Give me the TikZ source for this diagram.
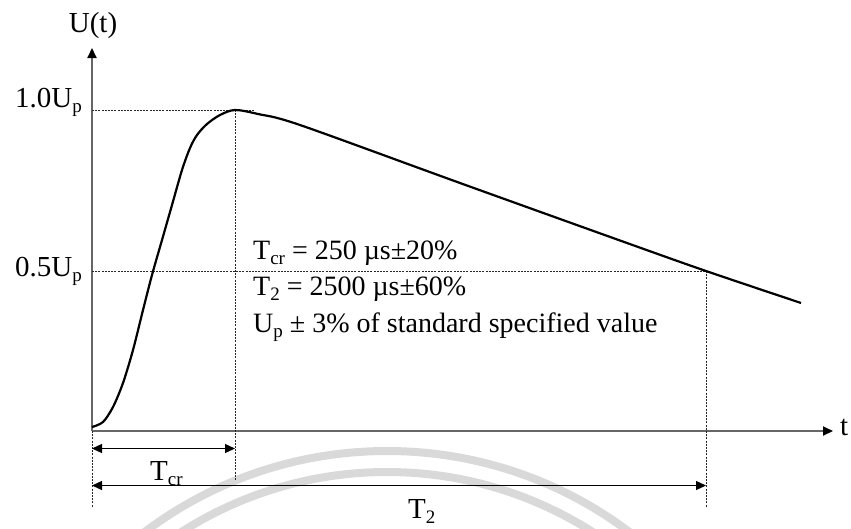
\documentclass[tikz,border=0pt]{standalone}
\usepackage{fontspec}
\setmainfont{Liberation Serif}
\usetikzlibrary{arrows.meta}
\newcommand\sbs[1]{\raisebox{-0.2em}{\fontsize{19}{19}\selectfont #1}}

\begin{document}
\begin{tikzpicture}[x=1pt,y=-1pt,>={Triangle[length=10pt,width=9pt]},
  axis/.style={draw=black!60,line width=2pt,-{Triangle[length=10pt,width=9pt,color=black]}},
  guide/.style={draw=black!85,line width=0.8pt,dash pattern=on 2pt off 1.2pt},
  dim/.style={<->,line width=1.3pt},
  wmark/.style={draw=black!15,line width=8pt},
  lbl/.style={font=\fontsize{29}{34}\selectfont,inner sep=0pt},
  txt/.style={font=\fontsize{28}{34}\selectfont,inner sep=0pt}]
\useasboundingbox (0,0) rectangle (851,528);
% watermark
\begin{scope}
\clip (0,0) rectangle (851,528);
\draw[wmark] (387,854) circle[radius=403pt];
\draw[wmark] (387,854) circle[radius=382pt];
\end{scope}
% axes
\coordinate (o) at (92,431);
\coordinate (ytop) at (92,48);
\coordinate (xend) at (833,431);
\draw[axis] (o) -- (ytop);
\draw[axis] (o) -- (xend);
\node[lbl,anchor=base] (ut) at (93,32) {U(t)};
\node[lbl,anchor=base west] (tl) at (840,435) {t};
\node[lbl,anchor=base east] (u10) at (82,107) {1.0U\sbs{p}};
\node[lbl,anchor=base east] (u05) at (82,276) {0.5U\sbs{p}};
% guide lines
\coordinate (pk) at (235,110);
\coordinate (hf) at (706,271);
\draw[guide] (92,110) -- (255,110);
\draw[guide] (92,271) -- (hf);
\draw[guide] (pk) -- (235,481);
\draw[guide] (hf) -- (706,507);
\draw[guide] (o) -- (92,507);
% impulse
\draw[line width=2.2pt,line join=round]
  plot[smooth,tension=0.5] coordinates {(92,427) (103,422) (113,407) (123,383) (133,350) (143,310) (152,275) (162,240) (172,205) (182,170) (190,148) (197,135) (207,124) (220,115) (235,110) (258,114) (300,125) (460,183) (627,243) (706,271) (801,303)};
% time intervals
\coordinate (a1) at (92,448.5);
\coordinate (b1) at (235,448.5);
\coordinate (a2) at (92,485.5);
\coordinate (b2) at (706,485.5);
\draw[dim] (a1) -- (b1);
\draw[dim] (a2) -- (b2);
\node[lbl,anchor=base west] (tcr) at (150,480) {T\sbs{cr}};
\node[lbl,anchor=base west] (t2) at (408,518) {T\sbs{2}};
% values
\node[txt,anchor=base west] (v1) at (253,259) {T\sbs{cr} = 250 µs±20\%};
\node[txt,anchor=base west] (v2) at (253,295) {T\sbs{2} = 2500 µs±60\%};
\node[txt,anchor=base west] (v3) at (253,332) {U\sbs{p} ± 3\% of standard specified value};
\end{tikzpicture}
\end{document}
